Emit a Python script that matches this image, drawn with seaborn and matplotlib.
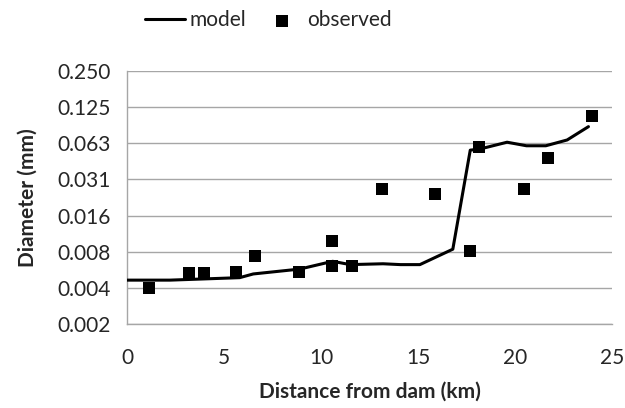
import matplotlib
matplotlib.use("Agg")
import matplotlib.pyplot as plt
import seaborn as sns
import pandas as pd
import numpy as np
from matplotlib.ticker import FixedLocator, FixedFormatter, NullLocator

# Data
model_km = [0.0, 2.2, 5.8, 6.5, 8.9, 10.6, 11.5, 13.2, 14.1, 15.1, 16.8, 17.7, 18.2, 19.6, 20.6, 21.6, 22.7, 23.8]
model_mm = [0.00453, 0.00453, 0.00475, 0.0051, 0.0056, 0.0065, 0.0061, 0.0062, 0.0061, 0.0061, 0.0082, 0.0548, 0.056, 0.0638, 0.0596, 0.0596, 0.0666, 0.086]

obs_km = [1.1, 3.18, 3.97, 5.61, 6.59, 8.86, 10.54, 10.54, 11.59, 13.12, 15.86, 17.68, 18.16, 20.49, 21.72, 23.96]
obs_mm = [0.0039, 0.0052, 0.0052, 0.0053, 0.0072, 0.0053, 0.0096, 0.0059, 0.0059, 0.0262, 0.0235, 0.0079, 0.0578, 0.0262, 0.047, 0.105]

y_ticks = [2**-9, 2**-8, 2**-7, 2**-6, 2**-5, 2**-4, 2**-3, 2**-2]
y_labels = ["0.002", "0.004", "0.008", "0.016", "0.031", "0.063", "0.125", "0.250"]
x_ticks = [0, 5, 10, 15, 20, 25]

sns.set_style("white")
plt.rcParams['font.family'] = ['Lato', 'DejaVu Sans']

model_df = pd.DataFrame({"km": model_km, "mm": model_mm})
obs_df = pd.DataFrame({"km": obs_km, "mm": obs_mm})

fig = plt.figure(figsize=(6.25, 4.08), dpi=100)
ax = fig.add_axes([127.3/625, 1 - 324/408, (611.7-127.3)/625, (324-71)/408])

sns.lineplot(data=model_df, x="km", y="mm", ax=ax, color="black", linewidth=2.2,
             label="model", sort=False, zorder=3)
sns.scatterplot(data=obs_df, x="km", y="mm", ax=ax, color="black", marker="s", s=80,
                edgecolor="black", linewidth=0, label="observed", zorder=4)

ax.set_yscale("log", base=2)
ax.set_ylim(2**-9, 2**-2)
ax.set_xlim(0, 25)
ax.yaxis.set_major_locator(FixedLocator(y_ticks))
ax.yaxis.set_major_formatter(FixedFormatter(y_labels))
ax.yaxis.set_minor_locator(NullLocator())
ax.set_xticks(x_ticks)
ax.set_xticklabels([str(v) for v in x_ticks])

ax.grid(axis="y", color="#a6a6a6", linewidth=1.0)
ax.grid(axis="x", visible=False)
for side in ["top", "right"]:
    ax.spines[side].set_visible(False)
for side in ["left", "bottom"]:
    ax.spines[side].set_color("#a6a6a6")
    ax.spines[side].set_linewidth(1.0)

ax.tick_params(axis="both", which="major", length=6, width=1.0, color="#a6a6a6",
               labelsize=15, labelcolor="#262626", direction="out")
ax.tick_params(axis="y", pad=6)
ax.tick_params(axis="x", pad=11)

ax.set_xlabel("Distance from dam (km)", fontsize=15, fontweight="bold", labelpad=10)
ax.set_ylabel("Diameter (mm)", fontsize=15, fontweight="bold", labelpad=14)

handles, labels = ax.get_legend_handles_labels()
ax.get_legend().remove()
fig.legend(handles, labels, loc="center left", bbox_to_anchor=(145/625, 1 - 20/408),
           ncol=2, frameon=False, fontsize=15, handlelength=1.9, columnspacing=0.75,
           handletextpad=0.25, borderpad=0, borderaxespad=0)

fig.savefig("out.png", dpi=100)
